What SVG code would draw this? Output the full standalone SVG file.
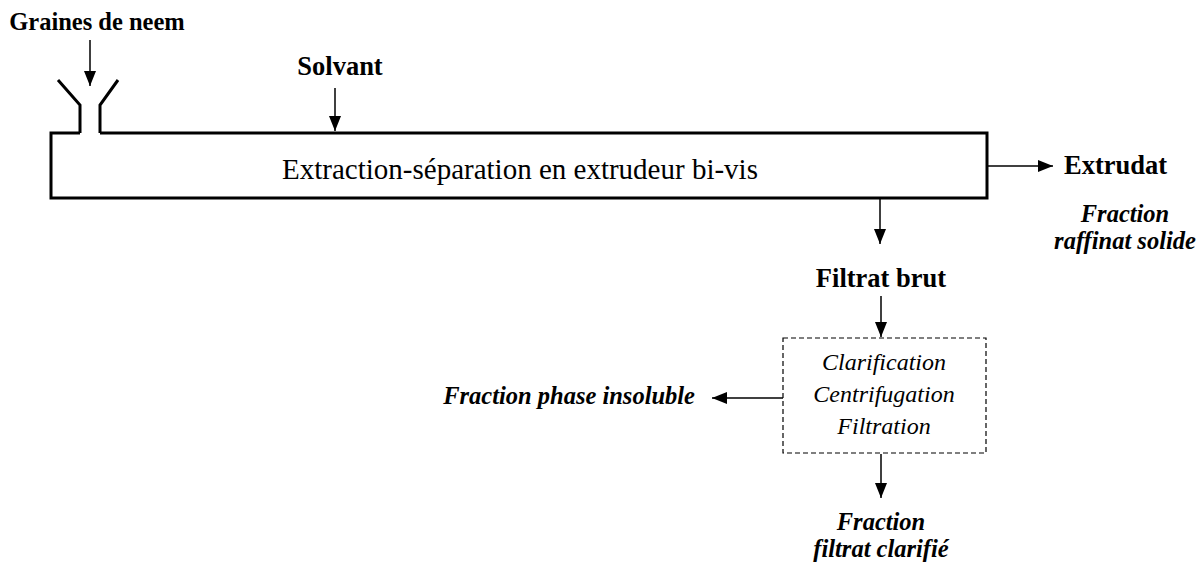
<svg xmlns="http://www.w3.org/2000/svg" width="1197" height="567" viewBox="0 0 1197 567">
<defs>
<marker id="ah" viewBox="0 0 15 12" refX="15" refY="6" markerWidth="15" markerHeight="12" markerUnits="userSpaceOnUse" orient="auto">
<path d="M0,0 L15,6 L0,12 Z" fill="#000"/>
</marker>
</defs>
<style>
text{font-family:"Liberation Serif","Times New Roman",serif;fill:#000}
.b{font-weight:bold;font-size:26.5px}
.g{font-weight:bold;font-size:24.5px}
.bi{font-weight:bold;font-style:italic;font-size:24.5px}
.i{font-style:italic;font-size:24px}
.r{font-size:29px}
.box{fill:#fff;stroke:#000;stroke-width:3}
.dash{fill:#fff;stroke:#000;stroke-width:1.2;stroke-dasharray:5,3}
.c{stroke:#000;stroke-width:1.5;fill:none}
</style>
<rect width="1197" height="567" fill="#fff"/>
<g id="extrudeur">
<path class="box" d="M80,133 L51,133 L51,198 L987,198 L987,133 L100,133"/>
<path d="M80,133 L80,105 L58,80 M100,133 L100,105 L118,80" fill="none" stroke="#000" stroke-width="3"/>
<text class="r" x="520" y="179" text-anchor="middle">Extraction-séparation en extrudeur bi-vis</text>
</g>
<g id="graines"><text class="g" x="97" y="30" text-anchor="middle">Graines de neem</text></g>
<g id="solvant"><text class="b" x="340" y="75" text-anchor="middle">Solvant</text></g>
<g id="extrudat">
<text class="b" x="1064" y="174">Extrudat</text>
<text class="bi" x="1125" y="222" text-anchor="middle">Fraction</text>
<text class="bi" x="1125" y="249" text-anchor="middle">raffinat solide</text>
</g>
<g id="filtrat"><text class="b" x="881" y="287" text-anchor="middle">Filtrat brut</text></g>
<g id="clarification">
<rect class="dash" x="783" y="338" width="203" height="115"/>
<text class="i" x="884" y="370" text-anchor="middle">Clarification</text>
<text class="i" x="884" y="402" text-anchor="middle">Centrifugation</text>
<text class="i" x="884" y="434" text-anchor="middle">Filtration</text>
</g>
<g id="insoluble"><text class="bi" x="695" y="404" text-anchor="end">Fraction phase insoluble</text></g>
<g id="clarifie">
<text class="bi" x="881" y="530" text-anchor="middle">Fraction</text>
<text class="bi" x="881" y="557" text-anchor="middle">filtrat clarifié</text>
</g>
<g id="connectors">
<line class="c" x1="90" y1="40" x2="90" y2="86" marker-end="url(#ah)"/>
<line class="c" x1="335" y1="88" x2="335" y2="131" marker-end="url(#ah)"/>
<line class="c" x1="988" y1="166" x2="1053" y2="166" marker-end="url(#ah)"/>
<line class="c" x1="880" y1="199" x2="880" y2="244" marker-end="url(#ah)"/>
<line class="c" x1="881" y1="296" x2="881" y2="337" marker-end="url(#ah)"/>
<line class="c" x1="783" y1="398" x2="712" y2="398" marker-end="url(#ah)"/>
<line class="c" x1="881" y1="454" x2="881" y2="498" marker-end="url(#ah)"/>
</g>
</svg>
